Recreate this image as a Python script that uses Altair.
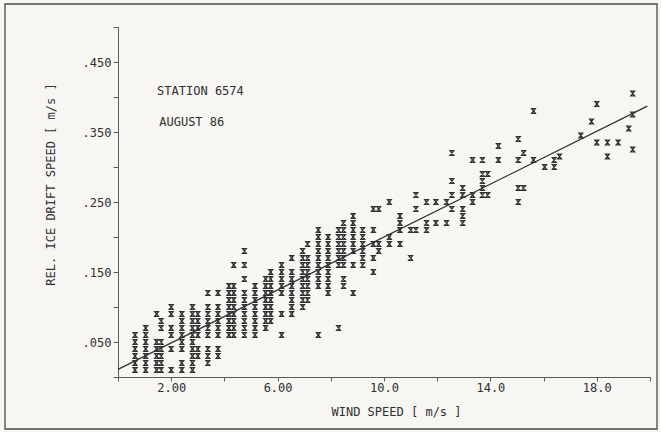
import altair as alt
import pandas as pd

# ---- data ----
col_wind = [0.64, 1.04, 1.45, 1.62, 2.0, 2.4, 2.8, 3.0, 3.38, 3.76,
            4.17, 4.35, 4.75, 5.15, 5.55, 5.74, 6.15, 6.53, 6.94, 7.13,
            7.53, 7.9, 8.29, 8.48, 8.84, 9.2, 9.6, 9.8, 10.2, 10.6,
            11.0, 11.2, 11.6, 11.95, 12.35, 12.55, 12.96, 13.33, 13.7, 13.9,
            14.3, 15.05, 15.25, 15.62, 16.04, 16.4, 16.6, 17.4, 17.8, 18.0,
            18.4, 18.8, 19.2, 19.35]
col_drift = [
    [0.01, 0.02, 0.03, 0.04, 0.05, 0.06],
    [0.01, 0.02, 0.03, 0.04, 0.05, 0.06, 0.07],
    [0.01, 0.02, 0.03, 0.04, 0.05, 0.09],
    [0.01, 0.02, 0.03, 0.04, 0.05, 0.07, 0.08],
    [0.01, 0.04, 0.06, 0.07, 0.09, 0.10],
    [0.01, 0.02, 0.04, 0.05, 0.06, 0.07, 0.08, 0.09],
    [0.01, 0.02, 0.03, 0.04, 0.05, 0.06, 0.07, 0.08, 0.09, 0.10],
    [0.03, 0.04, 0.06, 0.07, 0.08, 0.09],
    [0.02, 0.03, 0.04, 0.06, 0.07, 0.08, 0.09, 0.10, 0.12],
    [0.03, 0.04, 0.06, 0.07, 0.08, 0.09, 0.10, 0.12],
    [0.06, 0.07, 0.08, 0.09, 0.10, 0.11, 0.12, 0.13],
    [0.06, 0.07, 0.08, 0.09, 0.10, 0.11, 0.12, 0.13, 0.16],
    [0.06, 0.07, 0.08, 0.09, 0.10, 0.11, 0.12, 0.14, 0.16, 0.18],
    [0.06, 0.07, 0.08, 0.09, 0.10, 0.11, 0.12, 0.13],
    [0.07, 0.08, 0.09, 0.10, 0.11, 0.12, 0.13, 0.14],
    [0.08, 0.09, 0.10, 0.11, 0.12, 0.13, 0.14, 0.15],
    [0.06, 0.09, 0.12, 0.13, 0.14, 0.15, 0.16],
    [0.09, 0.10, 0.11, 0.12, 0.13, 0.14, 0.15, 0.17],
    [0.10, 0.11, 0.12, 0.13, 0.14, 0.15, 0.16, 0.17, 0.18],
    [0.11, 0.12, 0.13, 0.14, 0.15, 0.16, 0.17, 0.19],
    [0.06, 0.13, 0.14, 0.15, 0.16, 0.17, 0.18, 0.19, 0.20, 0.21],
    [0.12, 0.13, 0.14, 0.15, 0.16, 0.17, 0.18, 0.19, 0.20],
    [0.07, 0.16, 0.17, 0.18, 0.19, 0.20, 0.21],
    [0.13, 0.14, 0.16, 0.17, 0.18, 0.19, 0.20, 0.21, 0.22],
    [0.12, 0.16, 0.18, 0.19, 0.20, 0.21, 0.22, 0.23],
    [0.16, 0.17, 0.18, 0.19, 0.20, 0.21],
    [0.15, 0.17, 0.19, 0.21, 0.24],
    [0.18, 0.19, 0.24],
    [0.19, 0.20, 0.25],
    [0.19, 0.21, 0.22, 0.23],
    [0.17, 0.21],
    [0.21, 0.24, 0.26],
    [0.21, 0.22, 0.25],
    [0.22, 0.25],
    [0.22, 0.25],
    [0.24, 0.26, 0.28, 0.32],
    [0.22, 0.23, 0.24, 0.26, 0.27],
    [0.25, 0.26, 0.31],
    [0.26, 0.27, 0.28, 0.29, 0.31],
    [0.26, 0.29],
    [0.31, 0.33],
    [0.25, 0.27, 0.31, 0.34],
    [0.27, 0.32],
    [0.31, 0.38],
    [0.30],
    [0.30, 0.31],
    [0.315],
    [0.345],
    [0.365],
    [0.335, 0.39],
    [0.315, 0.335],
    [0.335],
    [0.355],
    [0.325, 0.375, 0.405],
]

line_wind = [0.0, 19.9]
line_drift = [0.011, 0.387]

notes = ["STATION 6574", "AUGUST 86"]
note_wind = [1.47, 1.55]
note_drift = [0.409, 0.364]

x_tick_values = [0, 2, 4, 6, 8, 10, 12, 14, 16, 18, 20]
y_tick_values = [0, 50, 100, 150, 200, 250, 300, 350, 400, 450, 500]   # thousandths of m/s
y_labelled = [50, 150, 250, 350, 450]

# ---- tables ----
points = pd.DataFrame(
    [{"wind": w, "drift": round(d * 1000, 1)} for w, ds in zip(col_wind, col_drift) for d in ds]
)
fit = pd.DataFrame({"wind": line_wind, "drift": [v * 1000 for v in line_drift]})
labels = pd.DataFrame({"wind": note_wind, "drift": [v * 1000 for v in note_drift], "text": notes})

INK = "#303030"
AXIS = "#5a5a5a"
FONT = "DejaVu Sans Mono"

xscale = alt.Scale(domain=[0, 20], nice=False, zero=False)
yscale = alt.Scale(domain=[0, 500], nice=False, zero=False)

xaxis = alt.Axis(
    values=x_tick_values,
    labelExpr="indexof([2,6,10,14,18], datum.value) >= 0 ? (datum.value < 10 ? format(datum.value, '.2f') : format(datum.value, '.1f')) : ''",
    title="WIND SPEED [ m/s ]",
    grid=False,
    domainColor=AXIS, tickColor=AXIS, tickSize=4,
    labelFont=FONT, labelFontSize=12, labelColor=INK, labelPadding=1,
    labelFlush=False, labelOverlap=False,
    titleFont=FONT, titleFontSize=12, titleFontWeight="normal", titleColor=INK,
    titleX=278, titleY=38, titleBaseline="alphabetic", titleAlign="center",
)
yaxis = alt.Axis(
    values=y_tick_values,
    labelExpr="indexof(" + str(y_labelled) + ", datum.value) >= 0 ? '.' + format(datum.value, '03d') : ''",
    title="REL. ICE DRIFT SPEED [ m/s ]",
    grid=False,
    domainColor=AXIS, tickColor=AXIS, tickSize=5,
    labelFont=FONT, labelFontSize=12, labelColor=INK, labelPadding=2,
    labelFlush=False, labelOverlap=False,
    titleFont=FONT, titleFontSize=12, titleFontWeight="normal", titleColor=INK,
    titleAngle=270, titleX=-64, titleY=157, titleBaseline="alphabetic", titleAlign="center",
)

frame = alt.Chart(pd.DataFrame({"k": [0]})).mark_rect(
    fillOpacity=0, stroke="#4a4a4a", strokeWidth=1.3
).encode(
    x=alt.value(-113), x2=alt.value(539), y=alt.value(-23), y2=alt.value(402)
)

pts = alt.Chart(points).mark_point(
    shape="M-0.8,-1L0.8,-1L-0.8,1L0.8,1Z",
    filled=False, size=22, stroke=INK, strokeWidth=1.3, opacity=1,
).encode(
    x=alt.X("wind:Q", scale=xscale, axis=xaxis),
    y=alt.Y("drift:Q", scale=yscale, axis=yaxis),
)

line = alt.Chart(fit).mark_line(color=INK, strokeWidth=1.3).encode(
    x=alt.X("wind:Q", scale=xscale, axis=xaxis),
    y=alt.Y("drift:Q", scale=yscale, axis=yaxis),
)

text = alt.Chart(labels).mark_text(
    align="left", baseline="middle", font=FONT, fontSize=12, color=INK
).encode(
    x=alt.X("wind:Q", scale=xscale, axis=xaxis),
    y=alt.Y("drift:Q", scale=yscale, axis=yaxis),
    text="text:N",
)

chart = alt.layer(frame, pts, line, text).properties(
    width=532,
    height=350,
    padding={"left": 118, "top": 27, "right": 11, "bottom": 55},
    autosize=alt.AutoSizeParams(type="none"),
    background="#f7f6f2",
).configure_view(stroke=None)

chart.save("out.html", embed_options={"renderer": "svg", "actions": False})
